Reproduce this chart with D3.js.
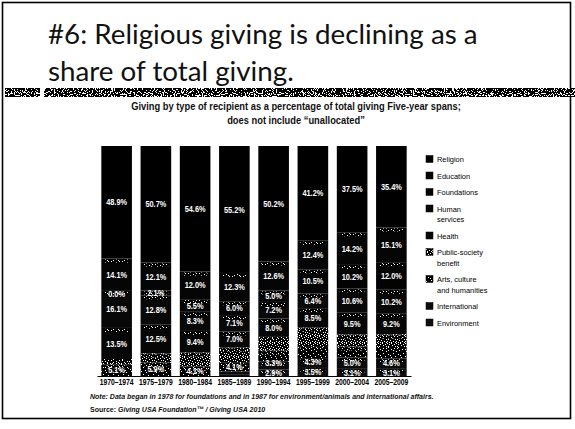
<!DOCTYPE html>
<html>
<head>
<meta charset="utf-8">
<script src="https://cdn.jsdelivr.net/npm/d3@7"></script>
<style>
  html, body { margin: 0; padding: 0; background: #fff; }
  svg { display: block; }
</style>
</head>
<body>
<svg id="slide" width="575" height="429"></svg>
<script>
// Five-year spans along the x axis
const periods = ["1970–1974", "1975–1979", "1980–1984", "1985–1989",
                 "1990–1994", "1995–1999", "2000–2004", "2005–2009"];

// Recipient types, top of each bar first (same order as the legend)
const recipients = ["Religion", "Education", "Foundations", "Human services", "Health",
                    "Public-society benefit", "Arts, culture and humanities",
                    "International", "Environment"];

// Share of total giving (%) per span
const religion      = [48.9, 50.7, 54.6, 55.2, 50.2, 41.2, 37.5, 35.4];
const education     = [14.1, 12.1, 12.0, 12.3, 12.6, 12.4, 14.2, 15.1];
const foundations   = [0.0, 2.1, 5.5, 6.0, 5.0, 10.5, 10.2, 12.0];
const humanServices = [16.1, 12.8, 8.3, 7.1, 7.2, 6.4, 10.6, 10.2];
const health        = [13.5, 12.5, 9.4, 7.0, 8.0, 8.5, 9.5, 9.2];
const publicSociety = [2.3, 3.9, 6.1, 6.4, 6.0, 8.0, 5.2, 5.5];
const arts          = [5.1, 5.9, 4.1, 4.1, 4.8, 5.2, 4.7, 4.9];
const international = [0.0, 0.0, 0.0, 1.1, 3.3, 4.3, 5.0, 4.6];
const environment   = [0.0, 0.0, 0.0, 0.8, 2.9, 3.5, 3.1, 3.1];

// Legend text, wrapped
const legendLines = [["Religion"], ["Education"], ["Foundations"], ["Human", "services"],
                     ["Health"], ["Public-society", "benefit"], ["Arts, culture", "and humanities"],
                     ["International"], ["Environment"]];

const titleLines = ["#6: Religious giving is declining as a", "share of total giving."];
const chartTitleLines = ["Giving by type of recipient as a percentage of total giving Five-year spans;",
                         "does not include \u201Cunallocated\u201D"];
const noteLine = "Note: Data began in 1978 for foundations and in 1987 for environment/animals and international affairs.";
const sourceLabel = "Source: ";
const sourceText = "Giving USA Foundation\u2122 / Giving USA 2010";

const seriesValues = [religion, education, foundations, humanServices, health,
                      publicSociety, arts, international, environment];

const table = periods.map((p, i) => {
  const row = { period: p };
  recipients.forEach((r, k) => { row[r] = seriesValues[k][i]; });
  return row;
});

const svg = d3.select("#slide");
const defs = svg.append("defs");

// small bitmap-style fills
function pattern(id, w, h, bg, fg, cells) {
  const p = defs.append("pattern").attr("id", id)
    .attr("patternUnits", "userSpaceOnUse").attr("width", w).attr("height", h);
  p.append("rect").attr("width", w).attr("height", h).attr("fill", bg);
  cells.forEach(([cx, cy]) => p.append("rect").attr("x", cx).attr("y", cy)
    .attr("width", 1).attr("height", 1).attr("fill", fg));
}
pattern("speck", 11, 3, "#000", "#fff", [[1,0],[6,1],[9,0],[3,2],[8,2]]);
pattern("denseDither", 9, 7, "#000", "#fff",
  [[0,0],[4,0],[7,1],[2,1],[5,2],[8,3],[1,3],[3,4],[6,5],[0,5],[4,6],[8,6],[2,6]]);
pattern("lightDither", 10, 7, "#000", "#fff", [[1,0],[6,1],[3,3],[8,4],[0,5],[5,6]]);

// black/white grain for the grey rule
const grain = defs.append("filter").attr("id", "grain")
  .attr("x", 0).attr("y", 0).attr("width", 1).attr("height", 1);
grain.append("feTurbulence").attr("type", "fractalNoise").attr("baseFrequency", 0.9)
  .attr("numOctaves", 2).attr("seed", 5).attr("result", "noise");
grain.append("feColorMatrix").attr("in", "noise").attr("type", "saturate").attr("values", 0).attr("result", "grey");
const tr = grain.append("feComponentTransfer").attr("in", "grey").attr("result", "bw");
["feFuncR", "feFuncG", "feFuncB"].forEach(f => tr.append(f).attr("type", "discrete").attr("tableValues", "0 0 0 0 0 1 1 1 1"));
tr.append("feFuncA").attr("type", "linear").attr("slope", 0).attr("intercept", 1);
grain.append("feComposite").attr("in", "bw").attr("in2", "SourceGraphic").attr("operator", "in");

const fills = {
  "Religion": "#000", "Education": "#050505", "Foundations": "#030303",
  "Human services": "#080808", "Health": "#060606",
  "Public-society benefit": "url(#denseDither)",
  "Arts, culture and humanities": "url(#lightDither)",
  "International": "#0b0b0b", "Environment": "#101010"
};

const sans = "'Liberation Sans', Arial, sans-serif";

// natural width of a string in the chart font
function widthOf(text, size, weight, style) {
  const t = svg.append("text").attr("font-family", sans).attr("font-weight", weight)
    .attr("font-style", style).attr("font-size", size).text(text);
  const w = t.node().getComputedTextLength();
  t.remove();
  return w;
}
// a horizontally condensed text placed at (px, py)
function narrowText(parent, px, py, factor, size, weight, style) {
  return parent.append("text")
    .attr("transform", `translate(${px},${py}) scale(${factor},1)`)
    .attr("font-family", sans).attr("font-size", size)
    .attr("font-weight", weight).attr("font-style", style);
}

// slide frame
svg.append("rect").attr("x", 2.5).attr("y", 2.5).attr("width", 568).attr("height", 416)
  .attr("fill", "none").attr("stroke", "#000").attr("stroke-width", 1.6);

// slide title
const titleFont = "Lato, 'Open Sans', sans-serif";
const tProbe = svg.append("text").attr("font-family", titleFont).attr("font-size", 20).text(titleLines[0]);
const titleSize = 20 * 430 / tProbe.node().getComputedTextLength();
tProbe.remove();
svg.append("g").selectAll("text").data(titleLines).join("text")
  .attr("x", 48).attr("y", (d, i) => 44 + i * 37)
  .attr("font-family", titleFont).attr("font-size", titleSize)
  .attr("fill", "#111").text(d => d);

// grey rule under the title
svg.append("rect").attr("x", 5).attr("y", 88).attr("width", 35).attr("height", 9)
  .attr("fill", "#777").attr("filter", "url(#grain)");
svg.append("rect").attr("x", 44).attr("y", 88).attr("width", 531).attr("height", 9)
  .attr("fill", "#777").attr("filter", "url(#grain)");

// chart title
const ctFactor = 330 / widthOf(chartTitleLines[0], 10, "bold", "normal");
chartTitleLines.forEach((line, i) => {
  narrowText(svg, 296, 110 + i * 14, ctFactor, 10, "bold", "normal")
    .attr("text-anchor", "middle").attr("fill", "#111").text(line);
});

// scales
const x = d3.scaleBand().domain(periods).range([97, 411]).paddingInner(0.22).paddingOuter(0.11);
const y = d3.scaleLinear().domain([0, 100]).range([376, 146]);

const stacked = d3.stack().keys(recipients).order(d3.stackOrderReverse)(table);

const plot = svg.append("g");
const layers = plot.selectAll("g.layer").data(stacked).join("g").attr("class", "layer");

layers.selectAll("rect.seg").data(d => d.map(v => ({ key: d.key, v })))
  .join("rect").attr("class", "seg")
  .attr("x", d => x(d.v.data.period)).attr("width", x.bandwidth())
  .attr("y", d => y(d.v[1])).attr("height", d => y(d.v[0]) - y(d.v[1]))
  .attr("fill", d => fills[d.key]);

// speckled boundary at the top of each lower segment
layers.filter(d => d.key !== "Religion").selectAll("rect.edge")
  .data(d => d.map(v => ({ key: d.key, v })).filter(s => s.v[1] - s.v[0] > 1.2))
  .join("rect").attr("class", "edge")
  .attr("x", d => x(d.v.data.period) + 3).attr("width", x.bandwidth() - 6)
  .attr("y", d => y(d.v[1]) + 1).attr("height", 3)
  .attr("fill", "url(#speck)");

// value labels
const labelSize = 8.5;
const labelFactor = 21 / widthOf("48.9%", labelSize, "bold", "normal");
function showLabel(key, seg) {
  const val = seg[1] - seg[0];
  if (key === "Foundations") return true;
  if (key === "Public-society benefit") return false;
  if (key === "Arts, culture and humanities") return seg[0] < 2;
  return val >= 2.5;
}
const labelGroup = svg.append("g");
periods.forEach((p, i) => {
  // collect this bar's labels bottom-up and keep them at least one line apart
  const items = stacked.slice().reverse()
    .map(layer => ({ key: layer.key, seg: layer[i] }))
    .filter(d => showLabel(d.key, d.seg))
    .map(d => ({ ...d, cy: (y(d.seg[0]) + y(d.seg[1])) / 2 + (d.seg[1] - d.seg[0] < 0.5 ? 3 : 0) }));
  items.sort((a, b) => b.cy - a.cy);
  for (let k = 1; k < items.length; k++) {
    items[k].cy = Math.min(items[k].cy, items[k - 1].cy - 9.6);
  }
  items.forEach(d => {
    narrowText(labelGroup, x(p) + x.bandwidth() / 2, d.cy, labelFactor, labelSize, "bold", "normal")
      .attr("dy", "0.36em").attr("text-anchor", "middle").attr("fill", "#fff")
      .text(d3.format(".1f")(table[i][d.key]) + "%");
  });
});

// x axis
const tickSize = 9;
const tickFactor = 34 / widthOf("1970–1974", tickSize, "bold", "normal");
const xAxis = svg.append("g").attr("transform", `translate(0,${y(0)})`)
  .call(d3.axisBottom(x).tickSize(0).tickPadding(3));
xAxis.select(".domain").attr("stroke", "#000").attr("stroke-width", 1.2);
xAxis.selectAll(".tick text").attr("font-family", sans).attr("font-weight", "bold")
  .attr("font-size", tickSize).attr("fill", "#000")
  .attr("transform", `scale(${tickFactor},1)`);

// legend
const legSize = 8;
const legFactor = 41 / widthOf("International", legSize, "normal", "normal");
let ly = 162;
const legend = svg.append("g");
recipients.forEach((r, i) => {
  const g = legend.append("g");
  g.append("rect").attr("x", 426).attr("y", ly - 6.5).attr("width", 7).attr("height", 7)
    .attr("fill", fills[r]).attr("stroke", "#000").attr("stroke-width", 0.5);
  legendLines[i].forEach((line, j) => {
    narrowText(g, 437, ly + j * 10.5, legFactor, legSize, "normal", "normal")
      .attr("fill", "#000").text(line);
  });
  ly += (legendLines[i].length - 1) * 10.5 + 16.5;
});

// note and source
const noteSize = 8;
const noteFactor = 344 / widthOf(noteLine, noteSize, "bold", "italic");
narrowText(svg, 90, 399, noteFactor, noteSize, "bold", "italic")
  .attr("fill", "#111").text(noteLine);
const src = narrowText(svg, 90, 411.5, noteFactor, noteSize, "bold", "normal").attr("fill", "#111");
src.append("tspan").text(sourceLabel);
src.append("tspan").attr("font-style", "italic").text(sourceText);
</script>
</body>
</html>
